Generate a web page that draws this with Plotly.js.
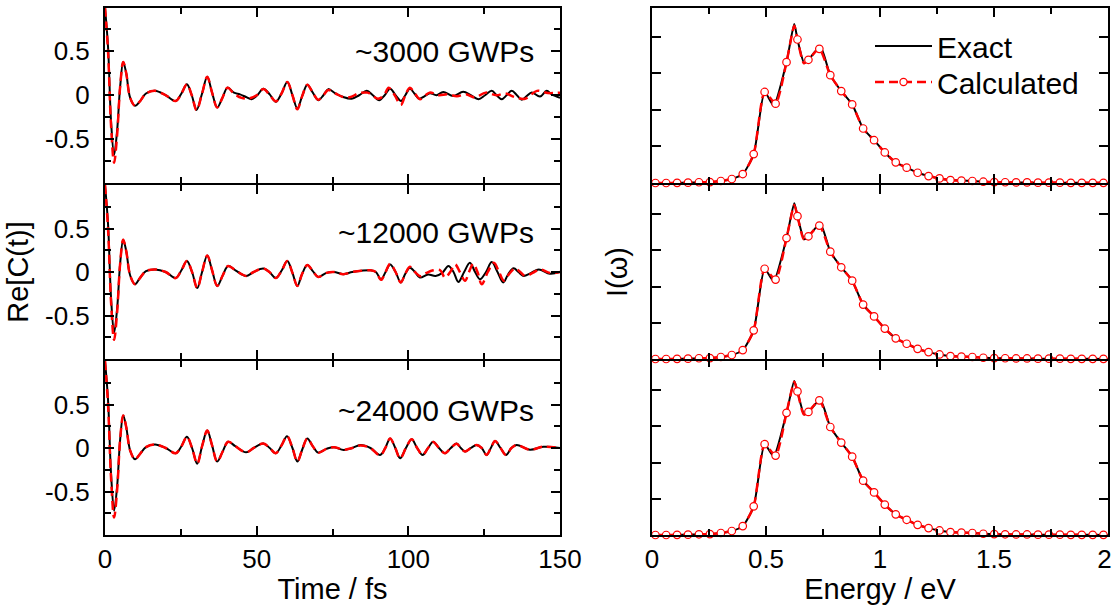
<!DOCTYPE html>
<html><head><meta charset="utf-8">
<script src="https://cdn.plot.ly/plotly-3.0.1.min.js"></script>
<style>html,body{margin:0;padding:0;background:#fff}#chart{width:1113px;height:605px}</style>
</head><body><div id="chart"></div>
<script>
// ---------- Left column: Re[C(t)] vs time (fs) ----------
const panelLabels = ["~3000 GWPs", "~12000 GWPs", "~24000 GWPs"];
const timeTickVals = [0, 50, 100, 150];
const timeTickText = ["0", "50", "100", "150"];
const corrTickVals = [-0.5, 0, 0.5];
const corrTickText = ["-0.5", "0", "0.5"];

// panel 1 (~3000 GWPs)
const tExact1 = [0,1.0,2.0,3.0,4.0,5.0,6.0,7.0,8.3,9.9,11.5,13.5,16.5,20,23.3,25.2,27.0,28.6,30.2,32.0,33.7,35.3,37.0,38.7,40.4,42.5,44.5,46.5,48.3,50.2,52.2,54.3,56.3,58.2,60.1,61.8,63.4,65.0,66.7,68.5,70.3,72.0,73.6,76.0,78.5,81.3,83.8,86.3,88.3,90.4,92.2,94.0,95.8,97.6,99.0,100.5,102.0,103.6,105.4,107.1,109.3,111.5,114.8,118.1,120.6,123.1,125.3,127.5,129.1,130.8,132.4,134.1,135.8,137.4,139.0,140.7,143.4,145.6,147.3,150];
const cExact1 = [1.0,0.55,-0.3,-0.68,-0.4,0.1,0.38,0.25,-0.03,-0.12,-0.07,0.02,0.05,0.0,-0.065,0.02,0.125,0.0,-0.167,0.02,0.21,0.03,-0.14,-0.03,0.087,0.03,0.01,-0.02,-0.045,0.0,0.075,0.01,-0.075,0.02,0.15,0.0,-0.15,-0.01,0.12,0.03,-0.057,0.0,0.07,0.02,-0.02,-0.04,0.0,0.05,0.0,-0.057,0.0,0.075,0.0,-0.065,0.0,0.075,0.02,-0.04,-0.01,0.023,0.0,0.038,-0.008,0.04,0.0,-0.045,0.0,0.05,0.0,-0.045,0.0,0.05,0.0,-0.05,-0.01,0.03,-0.015,0.05,0.01,-0.03];
const tCalc1 = [0,1.0,2.0,3.0,4.0,5.0,6.0,7.0,8.3,9.9,11.5,13.5,16.5,20,23.3,25.2,27.0,28.6,30.2,32.0,33.7,35.3,37.0,38.7,40.4,42.5,45.0,47.5,50.0,52.2,54.3,56.3,58.2,60.1,61.8,63.4,65.0,66.7,68.5,70.3,72.0,73.6,76.0,78.5,81.0,83.5,86.5,90.0,92.0,93.5,95.5,97.5,99.0,100.5,102.2,103.8,107.0,110.0,113.0,116.0,119.0,122.0,125.5,129.0,132.0,135.0,138.5,142.4,146.0,150];
const cCalc1 = [1.0,0.5,-0.35,-0.77,-0.45,0.1,0.38,0.25,-0.03,-0.12,-0.07,0.02,0.05,0.0,-0.065,0.02,0.125,0.0,-0.17,0.02,0.21,0.03,-0.14,-0.03,0.085,0.02,-0.03,-0.035,0.0,0.07,0.0,-0.07,0.02,0.15,0.0,-0.16,-0.01,0.12,0.03,-0.05,0.0,0.06,0.02,-0.02,-0.02,0.02,0.03,-0.04,0.0,0.085,0.0,-0.11,0.0,0.085,0.02,-0.045,0.03,0.0,0.01,-0.01,0.01,-0.025,0.03,0.0,0.02,-0.02,-0.04,0.05,0.025,0.03];

// panel 2 (~12000 GWPs)
const tExact2 = [0,1.0,2.0,3.0,4.0,5.0,6.0,7.0,8.3,9.9,11.5,13.5,16.5,20,23.3,25.2,27.0,28.7,30.4,32.0,33.7,35.3,37.0,38.8,40.6,43.0,46.5,49.0,52.2,54.2,56.3,58.3,60.1,61.8,63.4,65.0,66.7,68.5,70.3,73.0,75.5,78.5,81.5,84.5,87.5,89.3,91.0,92.5,94.0,95.8,97.5,99.0,100.5,102.2,103.8,106.5,109.0,111.2,113.2,114.9,116.5,118.4,120.3,122.0,123.6,125.6,127.5,129.4,131.3,133.0,134.7,136.3,137.9,140.5,143.0,146.7,150];
const cExact2 = [1.0,0.55,-0.3,-0.7,-0.42,0.1,0.37,0.24,-0.04,-0.14,-0.07,0.01,0.03,0.0,-0.07,0.02,0.125,0.0,-0.185,0.0,0.19,0.02,-0.16,-0.04,0.068,0.02,-0.045,0.0,0.04,0.0,-0.07,0.02,0.125,-0.01,-0.16,-0.02,0.08,0.01,-0.057,-0.01,0.0,-0.025,0.0,0.015,0.02,0.0,-0.083,0.0,0.087,0.0,-0.12,-0.02,0.05,0.0,-0.064,-0.03,-0.045,-0.01,0.068,0.0,-0.114,0.0,0.106,0.0,-0.083,0.0,0.114,0.0,-0.121,-0.02,0.042,0.0,-0.045,-0.01,0.03,-0.02,0.0];
const tCalc2 = [0,1.0,2.0,3.0,4.0,5.0,6.0,7.0,8.3,9.9,11.5,13.5,16.5,20,23.3,25.2,27.0,28.7,30.4,32.0,33.7,35.3,37.0,38.8,40.6,43.0,46.5,49.0,52.2,54.2,56.3,58.3,60.1,61.8,63.4,65.0,66.7,68.5,70.3,73.0,75.5,78.5,81.5,84.5,87.5,89.3,91.0,92.5,94.0,95.8,97.5,99.0,100.5,102.2,104.0,106.0,108.2,110.5,112.1,113.8,115.4,117.0,118.7,120.0,121.4,122.8,124.2,126.2,128.2,129.9,131.5,133.3,135.2,136.9,138.5,141.0,143.4,146.7,150];
const cCalc2 = [1.0,0.5,-0.35,-0.78,-0.46,0.1,0.37,0.24,-0.04,-0.14,-0.07,0.01,0.03,0.0,-0.07,0.02,0.125,0.0,-0.185,0.0,0.19,0.02,-0.16,-0.04,0.068,0.02,-0.045,0.0,0.04,0.0,-0.07,0.02,0.125,-0.01,-0.16,-0.02,0.08,0.01,-0.057,-0.01,0.0,-0.025,0.0,0.015,0.02,0.0,-0.09,0.0,0.095,0.0,-0.12,-0.02,0.06,0.0,-0.05,-0.01,0.02,0.02,-0.065,0.0,0.087,0.0,-0.1,0.0,0.095,0.0,-0.14,0.0,0.106,0.0,-0.1,-0.02,0.042,0.0,-0.045,-0.01,0.03,-0.01,0.0];

// panel 3 (~24000 GWPs)
const tExact3 = [0,1.0,2.0,3.0,4.0,5.0,6.0,7.0,8.3,9.9,11.5,13.5,16.5,20,23.3,25.2,27.0,28.7,30.4,32.0,33.7,35.3,37.0,38.8,40.6,43.0,46.5,49.0,52.2,54.3,56.3,58.2,60.0,61.8,63.4,65.0,66.7,68.5,70.3,73.0,75.5,78.7,81.5,84.2,87.5,90.7,92.4,94.0,95.7,97.3,99.2,101.1,102.9,104.7,106.5,108.2,110.1,112.1,114.0,115.9,117.3,118.7,120.6,122.5,124.2,125.8,127.2,128.6,130.4,132.2,134.0,135.7,140.1,144.5,150];
const cExact3 = [1.0,0.55,-0.3,-0.72,-0.44,0.1,0.375,0.24,-0.03,-0.13,-0.07,0.01,0.04,0.0,-0.06,0.02,0.13,0.0,-0.18,0.02,0.2,0.03,-0.155,-0.04,0.072,0.02,-0.05,0.0,0.053,0.0,-0.06,0.03,0.136,0.0,-0.155,-0.02,0.11,0.02,-0.053,-0.01,0.01,-0.023,0.0,0.034,0.0,-0.08,0.0,0.11,0.0,-0.117,0.0,0.1,0.0,-0.08,0.0,0.072,0.0,-0.06,0.0,0.053,0.0,-0.04,0.0,0.034,0.0,-0.08,0.0,0.08,0.0,-0.08,0.0,0.034,-0.02,0.015,0.0];
const tCalc3 = [0,1.0,2.0,3.0,4.0,5.0,6.0,7.0,8.3,9.9,11.5,13.5,16.5,20,23.3,25.2,27.0,28.7,30.4,32.0,33.7,35.3,37.0,38.8,40.6,43.0,46.5,49.0,52.2,54.3,56.3,58.2,60.0,61.8,63.4,65.0,66.7,68.5,70.3,73.0,75.5,78.7,81.5,84.2,87.5,90.7,92.4,94.0,95.7,97.3,99.2,101.1,102.9,104.7,106.5,108.2,110.1,112.1,114.0,115.9,117.3,118.7,120.6,122.5,124.2,125.8,127.2,128.6,130.4,132.2,134.0,135.7,140.1,144.5,150];
const cCalc3 = [1.0,0.5,-0.35,-0.8,-0.48,0.1,0.375,0.24,-0.03,-0.13,-0.07,0.01,0.04,0.0,-0.06,0.02,0.13,0.0,-0.18,0.02,0.2,0.03,-0.155,-0.04,0.072,0.02,-0.05,0.0,0.053,0.0,-0.06,0.03,0.136,0.0,-0.155,-0.02,0.11,0.02,-0.053,-0.01,0.01,-0.02,0.0,0.03,0.0,-0.085,0.0,0.11,0.0,-0.12,0.0,0.1,0.0,-0.08,0.0,0.07,0.0,-0.06,0.0,0.05,0.0,-0.04,0.0,0.035,0.0,-0.08,0.0,0.08,0.0,-0.08,0.0,0.035,-0.02,0.015,0.0];

// ---------- Right column: I(omega) vs energy (eV) ----------
const energyTickVals = [0, 0.5, 1, 1.5, 2];
const energyTickText = ["0", "0.5", "1", "1.5", "2\u00a0"];
const intensityTickVals = [0.2, 0.4, 0.6, 0.8];

const exactE = [0,0.062,0.110,0.158,0.206,0.254,0.302,0.350,0.398,0.446,0.494,0.533,0.590,0.624,0.638,0.668,0.686,0.738,0.782,0.830,0.878,0.926,0.974,1.021,1.069,1.117,1.165,1.213,1.261,1.309,1.357,1.405,1.5,1.6,1.7,1.8,1.9,2.0];
const exactSpec1 = [0,0,0.001,0.002,0.004,0.005,0.011,0.022,0.049,0.158,0.498,0.425,0.661,0.87,0.785,0.655,0.674,0.745,0.59,0.503,0.43,0.298,0.234,0.167,0.113,0.084,0.056,0.038,0.025,0.016,0.013,0.011,0.005,0.003,0.002,0.001,0.001,0.0];
const exactSpec2 = [0,0,0.001,0.002,0.004,0.005,0.011,0.022,0.049,0.158,0.498,0.43,0.667,0.86,0.788,0.66,0.677,0.745,0.592,0.506,0.432,0.30,0.235,0.168,0.114,0.084,0.056,0.038,0.025,0.016,0.013,0.011,0.005,0.003,0.002,0.001,0.001,0.0];
const exactSpec3 = [0,0,0.001,0.002,0.004,0.005,0.011,0.022,0.049,0.158,0.501,0.435,0.674,0.85,0.792,0.665,0.679,0.745,0.596,0.51,0.432,0.30,0.235,0.168,0.114,0.084,0.056,0.038,0.025,0.016,0.013,0.011,0.005,0.003,0.002,0.001,0.001,0.0];

const markerE = [0.015,0.062,0.110,0.158,0.206,0.254,0.302,0.350,0.398,0.446,0.494,0.542,0.590,0.638,0.686,0.734,0.782,0.830,0.878,0.926,0.974,1.021,1.069,1.117,1.165,1.213,1.261,1.309,1.357,1.405,1.453,1.501,1.549,1.597,1.645,1.693,1.741,1.789,1.837,1.885,1.933,1.980];
const calcSpec1 = [0.000,0.000,0.001,0.002,0.004,0.005,0.011,0.022,0.049,0.158,0.498,0.434,0.661,0.785,0.674,0.734,0.590,0.503,0.430,0.298,0.234,0.167,0.113,0.084,0.056,0.038,0.025,0.016,0.013,0.011,0.007,0.005,0.004,0.003,0.003,0.002,0.002,0.002,0.001,0.001,0.001,0.001];
const calcSpec2 = [0.000,0.000,0.001,0.002,0.004,0.005,0.011,0.022,0.049,0.158,0.498,0.438,0.667,0.788,0.677,0.736,0.592,0.506,0.432,0.300,0.235,0.168,0.114,0.084,0.056,0.038,0.025,0.016,0.013,0.011,0.007,0.005,0.004,0.003,0.003,0.002,0.002,0.002,0.001,0.001,0.001,0.001];
const calcSpec3 = [0.000,0.000,0.001,0.002,0.004,0.005,0.011,0.022,0.049,0.158,0.501,0.438,0.674,0.792,0.679,0.743,0.596,0.510,0.432,0.300,0.235,0.168,0.114,0.084,0.056,0.038,0.025,0.016,0.013,0.011,0.007,0.005,0.004,0.003,0.003,0.002,0.002,0.002,0.001,0.001,0.001,0.001];
// extra points of the calculated line (no marker) around the main peak
const calcPeakE = [0.624, 0.666];
const calcPeak1 = [0.86, 0.655];
const calcPeak2 = [0.85, 0.66];
const calcPeak3 = [0.845, 0.665];

// ---------- build ----------
const FONT = "Liberation Sans, Arial, Helvetica, sans-serif";
const BLACK = "#000000", RED = "#ff0000";
const DASH = "9px,5px";

function mergeCalc(gE, gV, pE, pV) {
  const pts = gE.map((e, i) => ({e, v: gV[i], s: 7.5})).concat(pE.map((e, i) => ({e, v: pV[i], s: 0})));
  pts.sort((a, b) => a.e - b.e);
  return {x: pts.map(p => p.e), y: pts.map(p => p.v), s: pts.map(p => p.s)};
}

const traces = [];
const leftSets = [[tExact1, cExact1, tCalc1, cCalc1], [tExact2, cExact2, tCalc2, cCalc2], [tExact3, cExact3, tCalc3, cCalc3]];
leftSets.forEach((d, i) => {
  const xa = i === 0 ? "x" : "x" + (i + 1), ya = i === 0 ? "y" : "y" + (i + 1);
  traces.push({x: d[0], y: d[1], xaxis: xa, yaxis: ya, mode: "lines", showlegend: false,
    line: {color: BLACK, width: 2, shape: "spline", smoothing: 1}, cliponaxis: false, hoverinfo: "skip"});
  traces.push({x: d[2], y: d[3], xaxis: xa, yaxis: ya, mode: "lines", showlegend: false,
    line: {color: RED, width: 2.5, dash: DASH, shape: "spline", smoothing: 1}, cliponaxis: false, hoverinfo: "skip"});
});
const rightSets = [[exactSpec1, calcSpec1, calcPeak1], [exactSpec2, calcSpec2, calcPeak2], [exactSpec3, calcSpec3, calcPeak3]];
rightSets.forEach((d, i) => {
  const xa = "x" + (i + 4), ya = "y" + (i + 4);
  traces.push({x: exactE, y: d[0], xaxis: xa, yaxis: ya, mode: "lines", name: "Exact", showlegend: i === 0, legend: "legend",
    line: {color: BLACK, width: 2, shape: "spline", smoothing: 0.6}, cliponaxis: false, hoverinfo: "skip"});
  const m = mergeCalc(markerE, d[1], calcPeakE, d[2]);
  traces.push({x: m.x, y: m.y, xaxis: xa, yaxis: ya, mode: "lines+markers", name: "Calculated", showlegend: i === 0, legend: "legend2",
    line: {color: RED, width: 2.5, dash: DASH, shape: "spline", smoothing: 0.6},
    marker: {symbol: "circle", size: m.s, color: "#ffffff", opacity: 1, line: {color: RED, width: 1.2}},
    cliponaxis: false, hoverinfo: "skip"});
});

const W = 1113, H = 605;
const xL = [105 / W, 560 / W], xR = [652 / W, 1108 / W];
const yDom = [[1 - 183 / H, 1 - 7.5 / H], [1 - 359 / H, 1 - 185 / H], [1 - 535 / H, 1 - 361 / H]];
const tickFont = {family: FONT, size: 26, color: BLACK};
const titleFont = {family: FONT, size: 29, color: BLACK};
const legendFont = {family: FONT, size: 30, color: BLACK};

const common = {showline: true, linecolor: BLACK, linewidth: 2, mirror: "ticks", ticks: "inside",
  tickwidth: 2, ticklen: 9, tickcolor: BLACK, showgrid: false, zeroline: false, tickfont: tickFont, fixedrange: true,
  ticklabeloverflow: "allow"};

const layout = {width: W, height: H, margin: {l: 0, r: 0, t: 0, b: 0}, paper_bgcolor: "#fff", plot_bgcolor: "#fff",
  font: {family: FONT, color: BLACK}, showlegend: true,
  legend: {x: 870 / W, y: 1 - 46 / H, xanchor: "left", yanchor: "middle", font: legendFont,
    bgcolor: "rgba(0,0,0,0)", itemwidth: 57, tracegroupgap: 0},
  legend2: {x: 870 / W, y: 1 - 82 / H, xanchor: "left", yanchor: "middle", font: legendFont,
    bgcolor: "rgba(0,0,0,0)", itemwidth: 57, tracegroupgap: 0},
  annotations: []};

for (let i = 0; i < 3; i++) {
  const xk = i === 0 ? "xaxis" : "xaxis" + (i + 1), yk = i === 0 ? "yaxis" : "yaxis" + (i + 1);
  const yid = i === 0 ? "y" : "y" + (i + 1), xid = i === 0 ? "x" : "x" + (i + 1);
  layout[xk] = Object.assign({}, common, {domain: xL, anchor: yid, range: [-0.001, 150.001], tickvals: timeTickVals, ticktext: timeTickText,
    showticklabels: i === 2, ticklabelstandoff: 0,
    minor: {tickvals: [25, 75, 125], ticks: "inside", ticklen: 6, tickwidth: 2, tickcolor: BLACK}});
  layout[yk] = Object.assign({}, common, {domain: yDom[i], anchor: xid, range: [-1, 1], tickvals: corrTickVals, ticktext: corrTickText,
    ticklabelstandoff: 8,
    minor: {tickvals: [-0.75, -0.25, 0.25, 0.75], ticks: "inside", ticklen: 6, tickwidth: 2, tickcolor: BLACK}});
  if (i === 2) layout[xk].title = {text: "Time / fs", font: titleFont, standoff: 9};
  if (i === 1) layout[yk].title = {text: "Re[C(t)]", font: titleFont, standoff: 8};
  layout.annotations.push({xref: xid, yref: yid, x: 142, y: [0.5, 0.45, 0.43][i], xanchor: "right", yanchor: "middle",
    text: panelLabels[i], showarrow: false, font: {family: FONT, size: 30, color: BLACK}});

  const xk2 = "xaxis" + (i + 4), yk2 = "yaxis" + (i + 4);
  layout[xk2] = Object.assign({}, common, {domain: xR, anchor: "y" + (i + 4), range: [-0.00001, 2.00001], tickvals: energyTickVals, ticktext: energyTickText,
    showticklabels: i === 2, ticklabelstandoff: 0,
    minor: {tickvals: [0.25, 0.75, 1.25, 1.75], ticks: "inside", ticklen: 6, tickwidth: 2, tickcolor: BLACK}});
  layout[yk2] = Object.assign({}, common, {domain: yDom[i], anchor: "x" + (i + 4), range: [0, 0.96], tickvals: intensityTickVals,
    showticklabels: false});
  if (i === 2) layout[xk2].title = {text: "Energy / eV", font: titleFont, standoff: 9};
  if (i === 1) layout[yk2].title = {text: "I(ω)", font: titleFont, standoff: 14};
}

Plotly.newPlot("chart", traces, layout, {staticPlot: true, displayModeBar: false});
</script></body></html>
